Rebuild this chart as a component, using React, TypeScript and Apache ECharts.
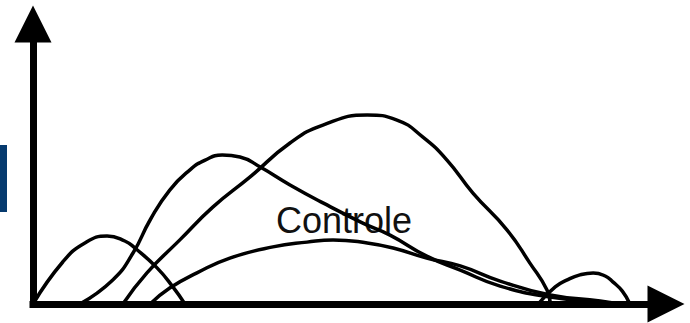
import React, { useEffect, useRef } from "react";
import * as echarts from "echarts";

// Curves: [x, y] with x in 0..100 and y in 0..100
const curveA: [number, number][] = [
  [0, 0], [4.7, 15], [8.2, 21.8], [11.7, 24.3], [14.5, 22.5], [16.1, 20],
  [19.6, 12.9], [22.1, 6.1], [24.0, 0],
];
const curveB: [number, number][] = [
  [7.4, 0], [12.6, 8.6], [15.8, 18.2], [18.5, 30], [21.6, 40.7], [24.8, 47.9],
  [27.2, 51.4], [29.9, 53.2], [32.7, 52.5], [35.9, 48.9], [40.6, 42.5],
  [45.8, 36.1], [52.1, 28.9], [56.4, 24.6], [62.2, 17.1], [67.5, 12.1],
  [73.8, 6.4], [81.7, 2.5], [89.6, 0.7], [92.7, 0],
];
const curveC: [number, number][] = [
  [14.2, 0], [18.0, 11.1], [23.2, 22.9], [28.4, 34.6], [34.3, 45.4],
  [40.6, 57.5], [45.8, 63.9], [52.8, 67.5], [57.5, 65.7], [61.6, 59.6],
  [65.4, 51.4], [69.5, 39.6], [74.9, 26.4], [78.5, 14.6], [81.2, 5], [81.7, 0],
];
const curveD: [number, number][] = [
  [18.5, 0], [21.6, 5.7], [25.9, 11.1], [31.1, 16.4], [37.9, 20.4],
  [43.3, 22.1], [47.4, 22.9], [52.8, 21.8], [56.9, 20], [62.2, 16.4],
  [67.5, 13.6], [73.8, 8.2], [81.7, 3.2], [89.6, 1.1], [92.7, 0],
];
const curveE: [number, number][] = [
  [79.8, 0], [82.5, 6.1], [84.4, 8.6], [86.4, 10.4], [88.5, 11.1],
  [90.4, 10], [91.6, 7.9], [93.1, 4.6], [94.3, 0],
];
const curves = [curveA, curveB, curveC, curveD, curveE];
const labelText = "Controle";

export default function App() {
  const ref = useRef<HTMLDivElement>(null);
  useEffect(() => {
    document.body.style.margin = "0";
    const chart = echarts.init(ref.current!, null, { renderer: "svg" });
    const axisCommon = {
      type: "value" as const,
      min: 0,
      max: 100,
      axisTick: { show: false },
      axisLabel: { show: false },
      splitLine: { show: false },
      axisLine: {
        show: true,
        symbol: ["none", "triangle"],
        symbolSize: [37, 37],
        lineStyle: { color: "#000", width: 7, cap: "square" },
      },
    };
    chart.setOption({
      animation: false,
      backgroundColor: "#fff",
      grid: { left: 33, right: 24, top: 24, bottom: 19 },
      xAxis: axisCommon,
      yAxis: axisCommon,
      graphic: [
        {
          type: "rect",
          left: 0,
          top: 145,
          shape: { width: 7, height: 67 },
          style: { fill: "#063a6e" },
        },
        {
          type: "text",
          left: 276,
          top: 202,
          style: {
            text: labelText,
            font: '36px "Liberation Sans", Arial, sans-serif',
            fill: "#111",
          },
        },
      ],
      series: curves.map((c) => ({
        type: "line",
        data: c,
        smooth: 0.5,
        symbol: "none",
        silent: true,
        lineStyle: { color: "#000", width: 3.5 },
      })),
    });
    return () => chart.dispose();
  }, []);
  return (
    <div
      ref={ref}
      style={{ position: "fixed", left: 0, top: 0, width: 690, height: 323 }}
    />
  );
}
